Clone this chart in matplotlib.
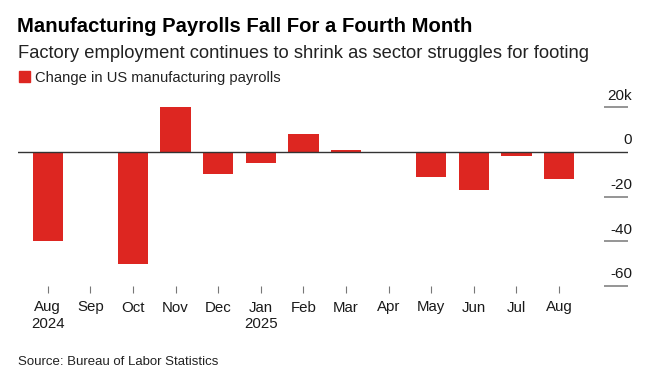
import matplotlib
matplotlib.use("Agg")
from matplotlib import pyplot as plt
from matplotlib.transforms import blended_transform_factory

plt.rcParams['font.family'] = ['Liberation Sans', 'DejaVu Sans']

# * Monthly change in US manufacturing payrolls, thousands
months = ['Aug', 'Sep', 'Oct', 'Nov', 'Dec', 'Jan', 'Feb', 'Mar', 'Apr',
          'May', 'Jun', 'Jul', 'Aug']
years = {0: '2024', 5: '2025'}
change = [-40, -0.4, -50, 20, -10, -5, 8, 1, -0.3, -11, -17, -2, -12]
y_ticks = [20, 0, -20, -40, -60]
y_labels = ['20k', '0', '-20', '-40', '-60']

RED = '#dd2621'
TXT = '#1a1a1a'
W, H = 647, 377


def fx(px):
    return px / W


def fy(py):
    return 1 - py / H


fig = plt.figure(figsize=(W / 100, H / 100), dpi=100)
ax = fig.add_axes([fx(18), fy(286), fx(628) - fx(18), fy(100) - fy(286)])

x = list(range(len(months)))
ax.bar(x, change, width=0.71, color=RED, zorder=2)

ax.set_xlim(-0.70, 13.62)
ax.set_ylim(-60, 23.3)

# * Zero line across the plot, short lines on the right for the other values
ax.axhline(0, color='#333333', lw=1, zorder=3)
for v, lab in zip(y_ticks, y_labels):
    if v != 0:
        ax.plot([13.05, 13.62], [v, v], color='#8c8c8c', lw=1.3,
                solid_capstyle='butt', clip_on=False)
    ax.text(13.72, v + 3.4, lab, ha='right', va='baseline', fontsize=11,
            color=TXT, clip_on=False)

ax.set_xticks(x)
ax.set_xticklabels([])
ax.tick_params(axis='x', length=5, width=0.8, color='#777777')
ax.set_yticks([])
for s in ax.spines.values():
    s.set_visible(False)

tr = blended_transform_factory(ax.transData, fig.transFigure)
for i, m in enumerate(months):
    ax.text(i, fy(311.5), m, transform=tr, ha='center', va='baseline',
            fontsize=10.8, color=TXT)
for i, yr in years.items():
    ax.text(i, fy(328), yr, transform=tr, ha='center', va='baseline',
            fontsize=10.8, color=TXT)

fig.text(fx(17), fy(32), 'Manufacturing Payrolls Fall For a Fourth Month',
         fontsize=14.6, fontweight='bold', va='baseline', color='#000000')
fig.text(fx(18), fy(58),
         'Factory employment continues to shrink as sector struggles for footing',
         fontsize=13.2, va='baseline', color='#222222')
fig.patches.append(plt.Rectangle((fx(18.5), fy(81.7)), fx(11), 10.5 / H,
                                 transform=fig.transFigure, color=RED))
fig.text(fx(35), fy(81.7), 'Change in US manufacturing payrolls',
         fontsize=10.6, va='baseline', color='#222222')
fig.text(fx(18), fy(365), 'Source: Bureau of Labor Statistics',
         fontsize=9.5, va='baseline', color='#222222')

fig.savefig('out.png', dpi=100)
